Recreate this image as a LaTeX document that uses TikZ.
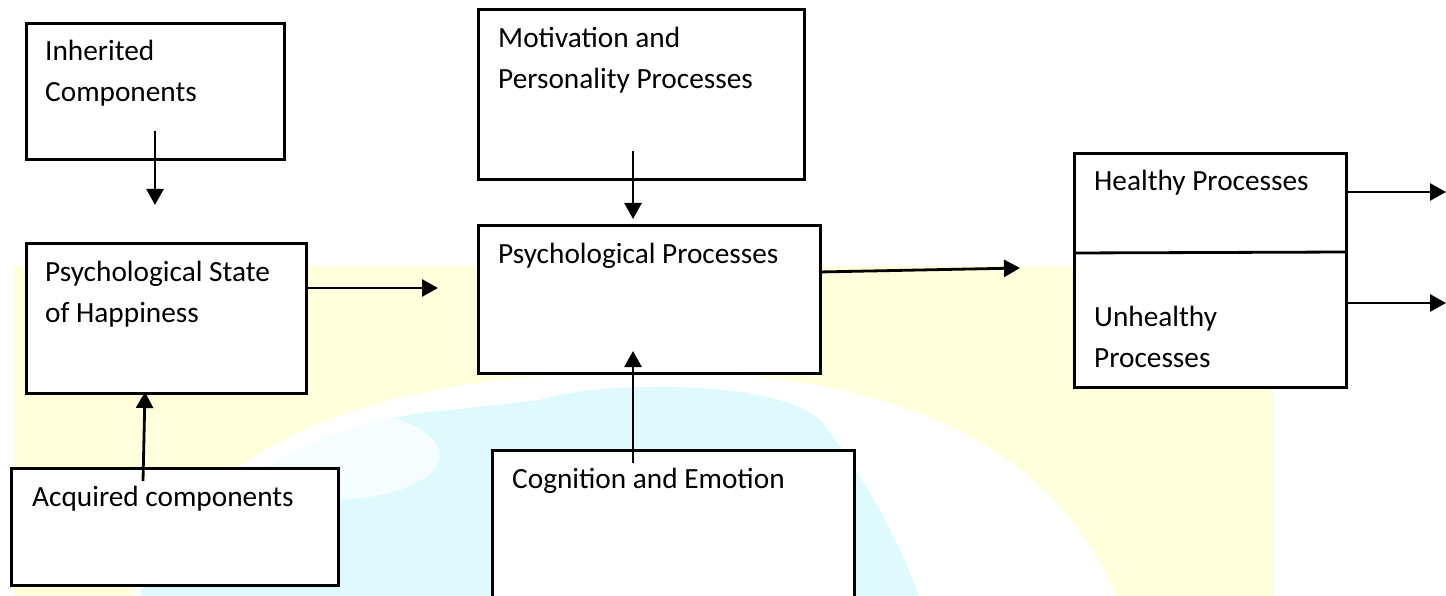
\documentclass[tikz,border=0pt]{standalone}
\usepackage{fontspec}
\setmainfont{Carlito}
\usetikzlibrary{arrows.meta}
\definecolor{washyellow}{RGB}{255,255,220}
\definecolor{washcyan}{RGB}{222,250,254}
\begin{document}
\begin{tikzpicture}[x=1pt,y=-1pt,
  box/.style={draw=black, line width=2.8pt, fill=white, rectangle, inner sep=0pt, anchor=north west},
  lbl/.style={anchor=base west, inner sep=0pt, font=\fontsize{29.3}{41}\selectfont, align=left},
  arr/.style={line width=2.8pt, -{Triangle[length=16pt,width=17pt]}}]
\useasboundingbox (0,0) rectangle (1446,596);
\clip (0,0) rectangle (1446,596);

% faint background wash: yellow band and a pale globe
\fill[washyellow] (13,266) rectangle (1273,600);
\begin{scope}
  \path[clip] (130,600) .. controls (200,450) and (350,375) .. (640,372)
     .. controls (920,370) and (1060,460) .. (1118,600) -- cycle;
  \fill[white] (0,300) rectangle (1446,600);
  \fill[washcyan] (130,600) .. controls (220,470) and (330,420) .. (450,410)
     -- (540,400) .. controls (600,380) and (780,380) .. (820,420)
     .. controls (860,470) and (900,540) .. (920,600) -- cycle;
  \fill[white, opacity=0.7] (330,455) ellipse (110 and 45);
  \draw[white, line width=12pt] (130,600) .. controls (200,450) and (350,375) .. (640,372)
     .. controls (920,370) and (1060,460) .. (1118,600);
\end{scope}

% boxes
\node[box, minimum width=258, minimum height=136] (inh) at (25,22) {};
\node[box, minimum width=280, minimum height=150] (psh) at (25,242) {};
\node[box, minimum width=327, minimum height=117] (acq) at (10,467) {};
\node[box, minimum width=326, minimum height=170] (mot) at (477,8) {};
\node[box, minimum width=342, minimum height=148] (pp) at (477,224) {};
\node[box, minimum width=362, minimum height=200] (cog) at (491,449) {};
\node[box, minimum width=272, minimum height=234] (hu) at (1073,152) {};
\draw[line width=2.8pt] ([yshift=-101pt]hu.north west) -- ([yshift=-100pt]hu.north east);

% labels (anchored at the baseline of the last line)
\node[lbl] (inhT) at (45,102) {Inherited\\Components};
\node[lbl] (pshT) at (45,322) {Psychological State\\of Happiness};
\node[lbl] (acqT) at (32,506) {Acquired components};
\node[lbl] (motT) at (498,89) {Motivation and\\Personality Processes};
\node[lbl] (ppT) at (498,263) {Psychological Processes};
\node[lbl] (cogT) at (512,488) {Cognition and Emotion};
\node[lbl] (hT) at (1094,191) {Healthy Processes};
\node[lbl] (uT) at (1094,367) {Unhealthy\\Processes};

% connector ends
\coordinate (a1s) at (155,131);  \coordinate (a1e) at (155,205);
\coordinate (a2s) at (305,288);  \coordinate (a2e) at (438,288);
\coordinate (a3s) at (143,481);  \coordinate (a3e) at (145,392);
\coordinate (a4s) at (633,151);  \coordinate (a4e) at (633,219);
\coordinate (a5s) at (633,463);  \coordinate (a5e) at (633,351);
\coordinate (a6s) at (819,272);  \coordinate (a6e) at (1020,268);
\coordinate (a7s) at (1345,192); \coordinate (a7e) at (1446,192);
\coordinate (a8s) at (1345,303); \coordinate (a8e) at (1446,303);

\draw[arr] (a1s) -- (a1e);
\draw[arr] (a2s) -- (a2e);
\draw[arr] (a3s) -- (a3e);
\draw[arr] (a4s) -- (a4e);
\draw[arr] (a5s) -- (a5e);
\draw[arr] (a6s) -- (a6e);
\draw[arr] (a7s) -- (a7e);
\draw[arr] (a8s) -- (a8e);
\end{tikzpicture}
\end{document}
